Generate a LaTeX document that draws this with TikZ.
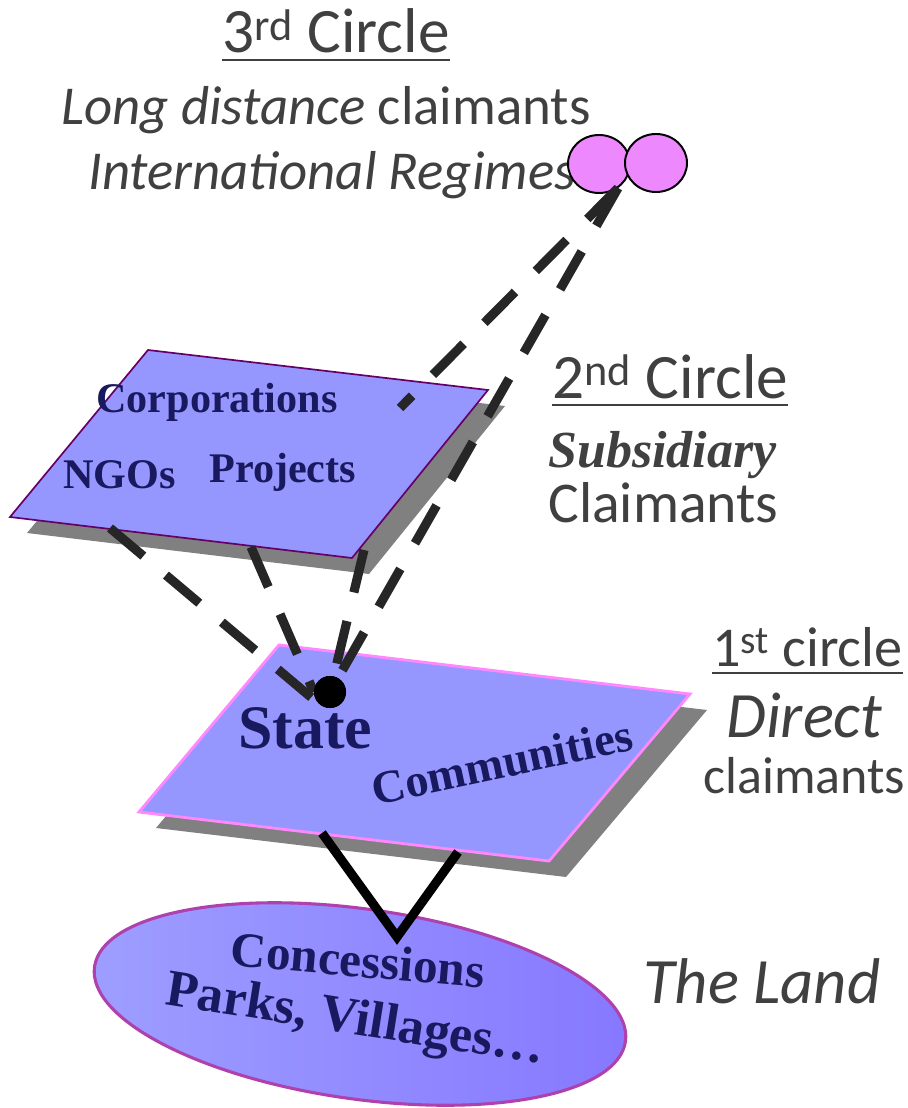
\documentclass[tikz,border=0pt]{standalone}
\usepackage{fontspec}
\setmainfont{Liberation Serif}
\newfontfamily\handfont{Carlito}
\usetikzlibrary{shapes.geometric}
\definecolor{Ink}{RGB}{64,64,64}
\definecolor{Navy}{RGB}{25,25,95}
\definecolor{Plane}{RGB}{150,150,255}
\definecolor{Shade}{RGB}{128,128,128}
\definecolor{Orchid}{RGB}{238,136,255}
\definecolor{Plum}{RGB}{102,0,102}
\definecolor{PinkEdge}{RGB}{255,136,255}
\definecolor{LandA}{RGB}{158,158,255}
\definecolor{LandB}{RGB}{134,120,255}
\definecolor{LandRim}{RGB}{175,65,175}
\newcommand{\ulbar}[1]{\setbox0\hbox{#1}\rlap{\rule[-6pt]{\wd0}{2pt}}\box0}

\begin{document}
\begin{tikzpicture}[x=0.025cm, y=-0.025cm,
        hand/.style={font={\handfont\fontsize{#1}{#1}\selectfont}, text=Ink, inner sep=0pt, anchor=base west},
        claim/.style={font={\bfseries\fontsize{#1}{#1}\selectfont}, text=Navy, inner sep=0pt},
        shadow/.style={fill=Shade},
        plane/.style={fill=Plane, draw=#1},
        regime/.style={ellipse, draw=black, line width=1.4pt, fill=Orchid, minimum width=1.55cm, minimum height=1.45cm, inner sep=0pt},
        tie/.style={draw=black!85, line width=6.5pt, dash pattern=on 31pt off 21pt},
        link/.style={draw=black, line width=6.5pt, miter limit=20}
    ]
        \useasboundingbox (0,0) rectangle (907,1108);

        \node[hand=45] (c3) at (222,53) {\ulbar{3\textsuperscript{rd} Circle}};
        \node[hand=39] (far) at (61,125) {\itshape Long distance\upshape\ claimants};
        \node[hand=39] (intl) at (88,190) {\itshape International Regimes};
        \node[hand=45] (c2) at (552,398) {\ulbar{2\textsuperscript{nd} Circle}};
        \node[hand=37, font={\bfseries\itshape\fontsize{37}{37}\selectfont}] (subs) at (548,467) {Subsidiary};
        \node[hand=41] (subsb) at (548,522) {Claimants};
        \node[hand=40] (c1) at (712,666) {\ulbar{1\textsuperscript{st} circle}};
        \node[hand=46] (dir) at (726,737) {\itshape Direct};
        \node[hand=37] (dirb) at (703,793) {claimants};
        \node[hand=46] (land-lbl) at (643,1003) {\itshape The Land};

        \fill[shadow] (165,366) -- (505,406) -- (369,574) -- (27,533) -- cycle;
        \filldraw[plane=Plum, line width=1.2pt] (148,350) -- (488,390) -- (352,558) -- (10,517) -- cycle;
        \fill[shadow] (296,661) -- (707,710) -- (566,877) -- (156,828) -- cycle;
        \filldraw[plane=PinkEdge, line width=2pt] (279,645) -- (690,694) -- (549,861) -- (139,812) -- cycle;

        \node[ellipse, draw=LandRim, line width=2.2pt, left color=LandA, right color=LandB,
            minimum width=13.4cm, minimum height=4.75cm, rotate=-8] (land) at (360,1004) {};

        \node[claim=30, anchor=base west] (corp) at (96,412) {Corporations};
        \node[claim=30, anchor=base west] (ngo) at (63,488) {NGOs};
        \node[claim=30, anchor=base west] (proj) at (209,482) {Projects};
        \node[claim=44, anchor=base west] (state) at (238,748) {State};
        \node[claim=33, rotate=12] (comm) at (502,762) {Communities};
        \node[claim=35, rotate=-5] (conc) at (358,960) {Concessions};
        \node[claim=37, rotate=-9] (parks) at (355,1022) {Parks, Villages\dots};

        \node[regime] (regL) at (599,164) {};
        \node[regime] (regR) at (656,163) {};

        \coordinate (regfoot) at (618,188);
        \coordinate (corpfoot) at (400,408);
        \coordinate (ngofoot) at (110,528);
        \coordinate (projfoot) at (251,547);
        \coordinate (edgefoot) at (364,550);
        \coordinate (statefootL) at (322,833);
        \coordinate (statefootR) at (458,852);
        \coordinate (landtop) at (397,937);

        \node[circle, fill=black, minimum size=0.8cm, inner sep=0pt] (dot) at (330,692) {};

        \draw[tie] (regfoot) -- (corpfoot);
        \draw[tie] (regfoot) -- (dot.center);
        \draw[tie] (ngofoot) -- (dot.south west);
        \draw[tie] (projfoot) -- (dot.west);
        \draw[tie] (edgefoot) -- (dot.center);
        \node[circle, fill=black, minimum size=0.8cm, inner sep=0pt] at (dot) {};

        \draw[link] (statefootL) -- (landtop) -- (statefootR);
    \end{tikzpicture}
\end{document}
